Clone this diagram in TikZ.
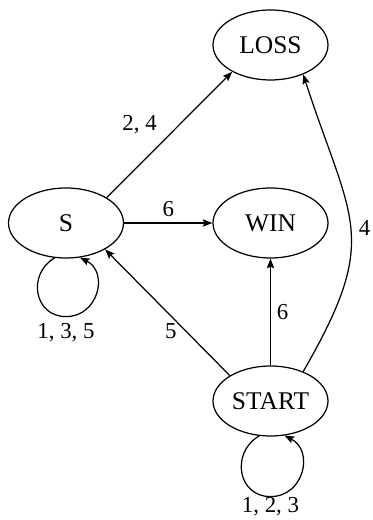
\documentclass[tikz,border=0pt]{standalone}
\usepackage{fontspec}
\setmainfont{Liberation Serif}
\usetikzlibrary{shapes.geometric,arrows.meta}

\begin{document}
\begin{tikzpicture}[line width=0.7pt,
    >={Stealth[length=5.5pt,width=4.2pt,inset=1pt]},
    state/.style={draw,ellipse,inner sep=0pt,minimum width=2.3cm,minimum height=1.4cm,font=\fontsize{14.5}{17}\selectfont},
    lbl/.style={font=\fontsize{13}{15}\selectfont}]
  \useasboundingbox (0,0) rectangle (7.44,10.4);
  \node (loss) at (5.41,9.5) [state] {LOSS};
  \node (s) at (1.32,5.94) [state] {S};
  \node (win) at (5.41,5.94) [state] {WIN};
  \node (start) at (5.41,2.38) [state] {START};
  \draw[->] (s.32) -- node[lbl,pos=.45,above left] {2, 4} (loss.215);
  \draw[->] (s) -- node[lbl,above] {6} (win);
  \draw[->] (start.148) -- node[lbl,pos=.354,left=1.5pt] {5} (s.-34);
  \draw[->] (start) -- node[lbl,right] {6} (win);
  \draw[->] (start.42) to[out=60,in=-72,looseness=1.35] node[lbl,right=1pt] {4} (loss.-42);
  %% self loops
  \coordinate (sbot) at ([yshift=-1.16cm]s.south);
  \coordinate (startbot) at ([yshift=-1.2cm]start.south);
  \draw[->] (s.-108) to[out=-150,in=180,distance=0.64cm] (sbot) node[lbl,below] {1, 3, 5}
    to[out=0,in=-27,distance=0.65cm] (s.-68);
  \draw[->] (start.-108) to[out=-150,in=180,distance=0.66cm] (startbot) node[lbl,below=-3pt] {1, 2, 3}
    to[out=0,in=-27,distance=0.67cm] (start.-68);
\end{tikzpicture}
\end{document}
